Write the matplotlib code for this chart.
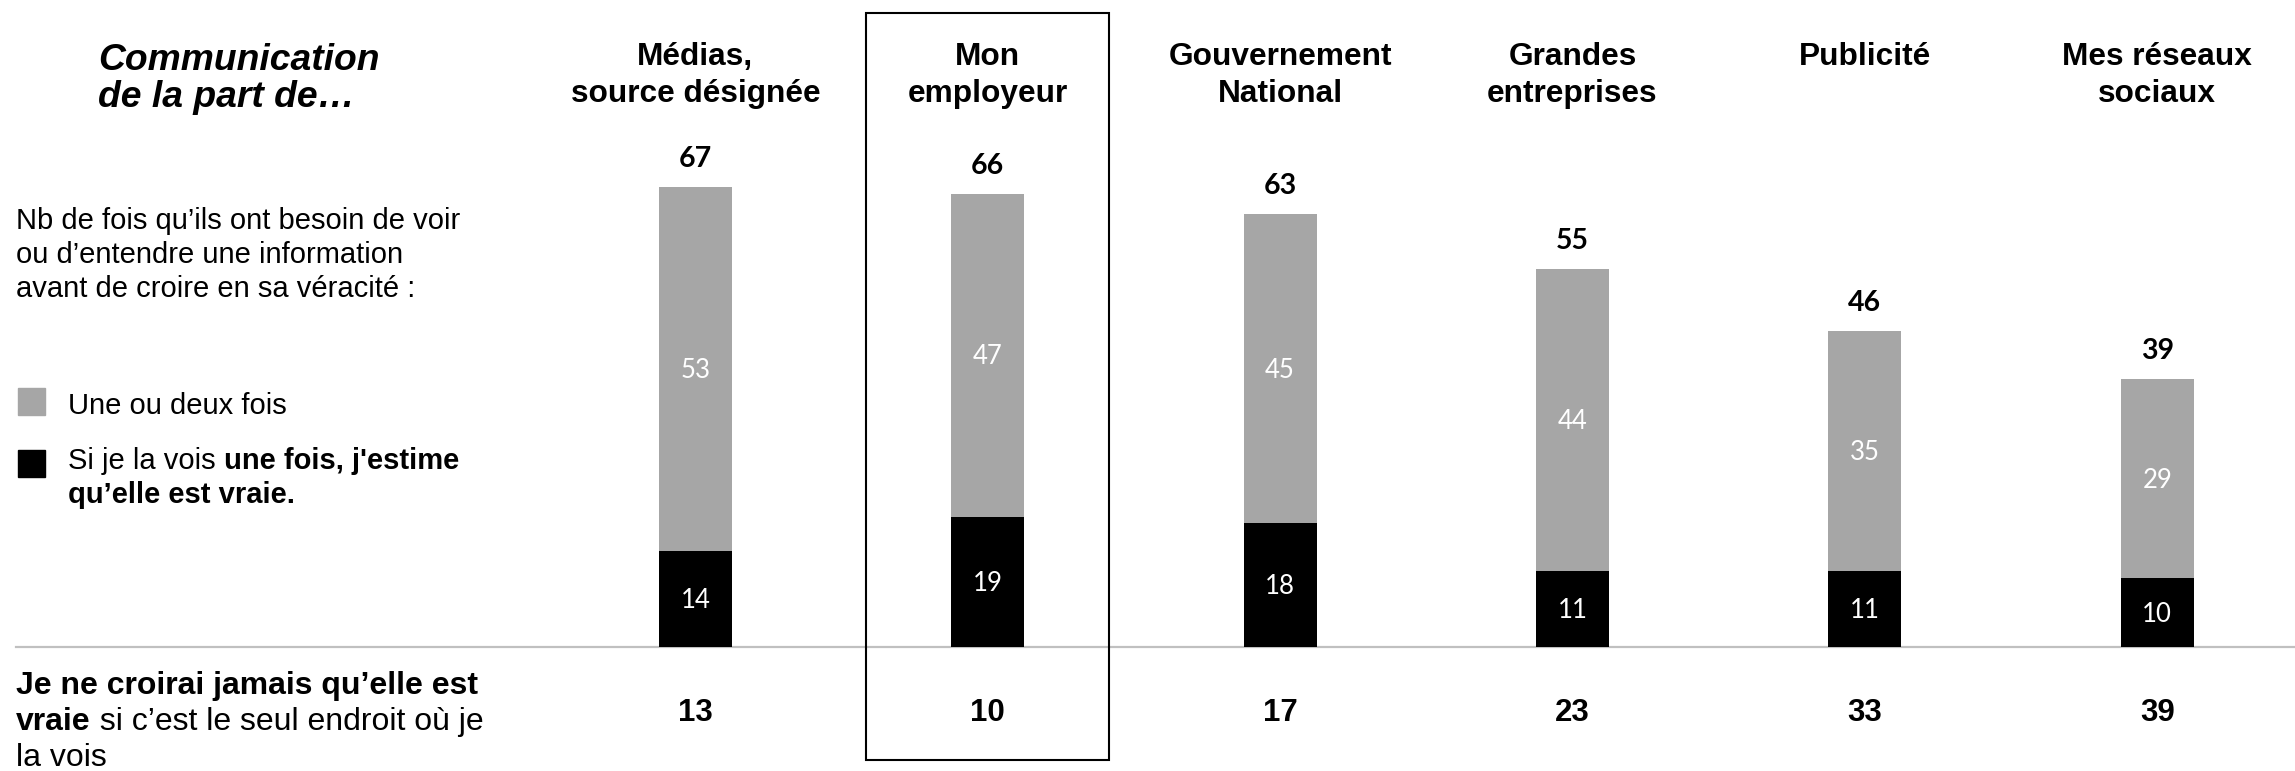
import matplotlib
matplotlib.use("Agg")
import matplotlib.pyplot as plt
from matplotlib.patches import Rectangle
import matplotlib.transforms as mtransforms

# ---- data ----
categories = [["Médias,", "source désignée"], ["Mon", "employeur"],
              ["Gouvernement", "National"], ["Grandes", "entreprises"],
              ["Publicité"], ["Mes réseaux", "sociaux"]]
once_true = [14, 19, 18, 11, 11, 10]          # Si je la vois une fois, j'estime qu'elle est vraie
one_or_two = [53, 47, 45, 44, 35, 29]         # Une ou deux fois
totals = [67, 66, 63, 55, 46, 39]
never = [13, 10, 17, 23, 33, 39]              # Je ne croirai jamais...
highlight = 1

GRAY = "#a6a6a6"
W, H, DPI = 2295, 771, 100
ARIAL = "Liberation Sans"
CAL = "Lato"

fig = plt.figure(figsize=(W / DPI, H / DPI), dpi=DPI)
ax = fig.add_axes([0, 0, 1, 1])
ax.set_axis_off()

x = list(range(len(totals)))
ax.bar(x, once_true, width=0.25, color="black", zorder=2)
ax.bar(x, one_or_two, bottom=once_true, width=0.25, color=GRAY, zorder=2)
ax.set_xlim(-2.378, 5.471)
ax.set_ylim(-18.06, 94.23)

ax.axhline(0, xmin=16 / W, xmax=1, color="#c0c0c0", lw=1.6, zorder=1)

blend = mtransforms.blended_transform_factory(ax.transData, ax.transAxes)

for i in x:
    # segment labels
    ax.annotate(str(once_true[i]), xy=(i, once_true[i] / 2), xytext=(0, -6.5),
                textcoords="offset points", ha="center", va="baseline",
                color="white", fontsize=18.5, family=CAL, zorder=3)
    ax.annotate(str(one_or_two[i]), xy=(i, once_true[i] + one_or_two[i] / 2),
                xytext=(0, -6.5), textcoords="offset points", ha="center",
                va="baseline", color="white", fontsize=18.5, family=CAL, zorder=3)
    ax.annotate(str(totals[i]), xy=(i, totals[i]), xytext=(0, 14.4),
                textcoords="offset points", ha="center", va="baseline",
                color="black", fontsize=20.5, fontweight="bold", family=CAL)
    # category header
    for k, line in enumerate(categories[i]):
        ax.text(i, 1 - (65 + 37 * k) / H, line, transform=blend, ha="center",
                va="baseline", fontsize=22.8, fontweight="bold", family=ARIAL)
    # bottom values
    ax.text(i, 1 - 721 / H, str(never[i]), transform=blend, ha="center",
            va="baseline", fontsize=22.5, fontweight="bold", family=ARIAL)

# highlight box
ax.add_patch(Rectangle((highlight - 0.415, 1 - 760 / H), 0.83, (760 - 13) / H,
                       transform=blend, fill=False, edgecolor="black", lw=1.5,
                       clip_on=False))


def rich_line(x_px, base_px, parts, size, style="normal"):
    last = None
    for txt, bold in parts:
        kw = dict(fontsize=size, fontweight="bold" if bold else "normal",
                  family=ARIAL, fontstyle=style, va="baseline", ha="left")
        if last is None:
            last = fig.text(x_px / W, 1 - base_px / H, txt, **kw)
        else:
            last = ax.annotate(txt, xy=(1, 1 - base_px / H),
                               xycoords=(last, "figure fraction"), **kw)


# title
rich_line(98, 70, [("Communication", True)], 26.8, style="italic")
rich_line(98, 107, [("de la part de…", True)], 26.8, style="italic")

# description
rich_line(16, 229, [("Nb de fois qu’ils ont besoin de voir", False)], 21)
rich_line(16, 263, [("ou d’entendre une information", False)], 21)
rich_line(16, 297, [("avant de croire en sa véracité :", False)], 21)

# legend
fig.patches.append(Rectangle((18 / W, 1 - 415 / H), 27 / W, 27 / H,
                             transform=fig.transFigure, color=GRAY))
fig.patches.append(Rectangle((18 / W, 1 - 477 / H), 27 / W, 27 / H,
                             transform=fig.transFigure, color="black"))
rich_line(68, 414, [("Une ou deux fois", False)], 21)
rich_line(68, 469, [("Si je la vois", False), (" une fois, j'estime", True)], 21)
rich_line(68, 503, [("qu’elle est vraie.", True)], 21)

# bottom-left
rich_line(16, 694, [("Je ne croirai jamais qu’elle est", True)], 23)
rich_line(16, 730, [("vraie", True), (" si c’est le seul endroit où je", False)], 23)
rich_line(16, 766, [("la vois", False)], 23)

fig.savefig("out.png", dpi=DPI, facecolor="white")
